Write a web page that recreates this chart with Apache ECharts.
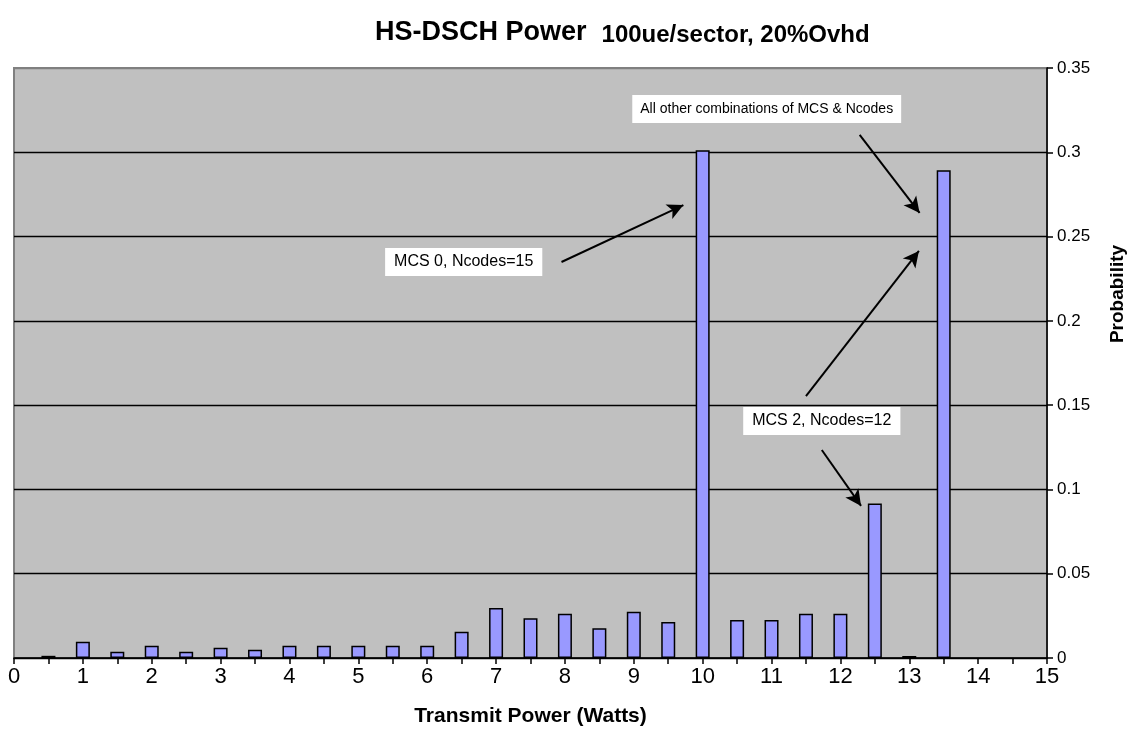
<!DOCTYPE html>
<html>
<head>
<meta charset="utf-8">
<script src="https://cdn.jsdelivr.net/npm/echarts@6/dist/echarts.min.js"></script>
<style>
  html, body { margin: 0; padding: 0; background: #fff; }
  #chart { width: 1136px; height: 753px; }
</style>
</head>
<body>
<div id="chart"></div>
<script>
// transmit power (Watts) and probability
var powerW = [0.5, 1, 1.5, 2, 2.5, 3, 3.5, 4, 4.5, 5, 5.5, 6, 6.5, 7, 7.5, 8, 8.5, 9, 9.5, 10, 10.5, 11, 11.5, 12, 12.5, 13, 13.5];
var probability = [0.0013, 0.0097, 0.0037, 0.0073, 0.0037, 0.0061, 0.0049, 0.0073, 0.0073, 0.0073, 0.0073, 0.0073,
    0.0156, 0.0296, 0.0236, 0.0262, 0.0177, 0.0274, 0.0214, 0.3012, 0.0226, 0.0226, 0.0262, 0.0262, 0.0917, 0.0012, 0.2893];

// annotation text boxes, [x, y] in data units
var noteText = ['MCS 0, Ncodes=15', 'All other combinations of MCS & Ncodes', 'MCS 2, Ncodes=12'];
var notePos = [[6.53, 0.2349], [10.93, 0.3257], [11.73, 0.1406]];
var noteFont = [16, 14, 16];
// arrows: start -> tip, data units
var arrowFrom = [[7.95, 0.2349], [12.28, 0.3103], [11.50, 0.1554], [11.73, 0.1234]];
var arrowTo = [[9.72, 0.2687], [13.15, 0.2640], [13.14, 0.2415], [12.30, 0.0902]];

var FONT = 'Arial, "Liberation Sans", sans-serif';

var chart = echarts.init(document.getElementById('chart'), null, {renderer: 'canvas'});

var barData = powerW.map(function (x, i) { return [x, probability[i]]; });

var arrows = arrowFrom.map(function (p, i) {
    return [
        {coord: p, symbol: 'none'},
        {coord: arrowTo[i], symbol: 'arrow', symbolSize: [12, 16]}
    ];
});

var notes = noteText.map(function (t, i) {
    return {
        coord: notePos[i],
        value: t,
        label: {fontSize: noteFont[i], padding: noteFont[i] > 14 ? [6, 9, 6, 9] : [7, 8, 7, 8]}
    };
});

chart.setOption({
    animation: false,
    backgroundColor: '#ffffff',
    title: {
        text: '{a|HS-DSCH Power}   {b|100ue/sector, 20%Ovhd}',
        left: 370,
        top: 14,
        textStyle: {
            rich: {
                a: {fontFamily: FONT, fontSize: 27, fontWeight: 'bold', color: '#000'},
                b: {fontFamily: FONT, fontSize: 24, fontWeight: 'bold', color: '#000', padding: [4, 0, 0, 0]}
            }
        }
    },
    grid: {
        left: 14,
        right: 89,
        top: 68,
        bottom: 95,
        show: true,
        backgroundColor: '#c0c0c0',
        borderColor: '#808080',
        borderWidth: 2
    },
    graphic: [{
        type: 'text',
        x: 1118,
        y: 294,
        rotation: Math.PI / 2,
        style: {
            text: 'Probability',
            fontFamily: FONT,
            fontSize: 19,
            fontWeight: 'bold',
            fill: '#000',
            align: 'center',
            verticalAlign: 'middle'
        }
    }],
    xAxis: {
        type: 'value',
        min: 0,
        max: 15,
        interval: 0.5,
        name: 'Transmit Power (Watts)',
        nameLocation: 'middle',
        nameGap: 48,
        nameTextStyle: {fontFamily: FONT, fontSize: 21, fontWeight: 'bold', color: '#000'},
        axisLine: {onZero: false, lineStyle: {color: '#000', width: 1.5}},
        axisTick: {show: true, length: 6, lineStyle: {color: '#000', width: 1.5}},
        axisLabel: {
            fontFamily: FONT,
            fontSize: 22,
            color: '#000',
            margin: 8,
            formatter: function (v) { return v % 1 === 0 ? String(v) : ''; }
        },
        splitLine: {show: false}
    },
    yAxis: {
        type: 'value',
        position: 'right',
        min: 0,
        max: 0.35,
        interval: 0.05,
        axisLine: {show: true, onZero: false, lineStyle: {color: '#000', width: 1.5}},
        axisTick: {show: true, length: 6, lineStyle: {color: '#000', width: 1.5}},
        axisLabel: {fontFamily: FONT, fontSize: 17, color: '#000', margin: 10},
        splitLine: {
            show: true,
            lineStyle: {
                color: ['#000', '#000', '#000', '#000', '#000', '#000', '#000', '#808080'],
                width: 1.3
            }
        }
    },
    series: [{
        type: 'bar',
        data: barData,
        barWidth: 14,
        itemStyle: {color: '#9999ff', borderColor: '#000', borderWidth: 1.5},
        markLine: {
            silent: true,
            animation: false,
            lineStyle: {color: '#000', width: 2, type: 'solid'},
            label: {show: false},
            data: arrows
        },
        markPoint: {
            silent: true,
            symbol: 'rect',
            symbolSize: 1,
            itemStyle: {color: 'rgba(0,0,0,0)'},
            label: {
                show: true,
                position: 'inside',
                formatter: function (p) { return p.value; },
                fontFamily: FONT,
                fontSize: 14,
                color: '#000',
                backgroundColor: '#ffffff'
            },
            data: notes
        }
    }]
});
</script>
</body>
</html>
